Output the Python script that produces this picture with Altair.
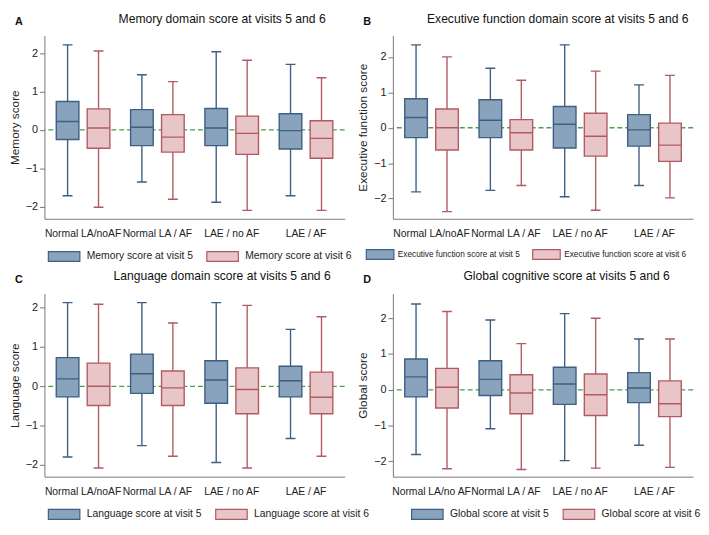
import altair as alt
import pandas as pd

groups_abc = ["Normal LA/noAF", "Normal LA / AF", "LAE / no AF", "LAE / AF"]
groups_d = ["Normal LA/no AF", "Normal LA / AF", "LAE / no AF", "LAE / AF"]

# each row: lower whisker, Q1, median, Q3, upper whisker (one row per group)
mem_v5 = [[-1.72, -0.25, 0.22, 0.74, 2.22], [-1.36, -0.41, 0.07, 0.53, 1.44],
          [-1.89, -0.41, 0.05, 0.56, 2.04], [-1.72, -0.50, -0.02, 0.42, 1.71]]
mem_v6 = [[-2.02, -0.48, 0.05, 0.55, 2.06], [-1.81, -0.58, -0.19, 0.40, 1.26],
          [-2.10, -0.64, -0.09, 0.36, 1.82], [-2.10, -0.74, -0.22, 0.24, 1.36]]

exe_v5 = [[-1.81, -0.28, 0.29, 0.82, 2.34], [-1.77, -0.28, 0.21, 0.79, 1.68],
          [-1.95, -0.57, 0.10, 0.60, 2.34], [-1.63, -0.52, -0.06, 0.37, 1.21]]
exe_v6 = [[-2.37, -0.63, 0.00, 0.53, 2.00], [-1.63, -0.63, -0.14, 0.23, 1.34],
          [-2.33, -0.80, -0.24, 0.41, 1.60], [-1.98, -0.95, -0.49, 0.13, 1.48]]

lang_v5 = [[-1.80, -0.27, 0.19, 0.73, 2.13], [-1.51, -0.18, 0.32, 0.82, 2.13],
           [-1.94, -0.43, 0.16, 0.65, 2.13], [-1.33, -0.27, 0.14, 0.51, 1.45]]
lang_v6 = [[-2.08, -0.49, 0.00, 0.59, 2.09], [-1.78, -0.49, -0.04, 0.39, 1.61],
           [-2.08, -0.70, -0.08, 0.47, 2.06], [-1.78, -0.70, -0.28, 0.36, 1.77]]

glob_v5 = [[-1.81, -0.20, 0.36, 0.86, 2.40], [-1.09, -0.16, 0.29, 0.81, 1.95],
           [-1.98, -0.41, 0.16, 0.63, 2.13], [-1.55, -0.36, 0.05, 0.48, 1.42]]
glob_v6 = [[-2.21, -0.51, 0.07, 0.60, 2.19], [-2.23, -0.67, -0.09, 0.42, 1.29],
           [-2.19, -0.72, -0.14, 0.44, 2.00], [-2.17, -0.75, -0.39, 0.25, 1.42]]

y_ticks = [-2, -1, 0, 1, 2]

FONT = "Liberation Sans"
FILL_COLORS = ["#8aa3bd", "#e8c6c8"]
STROKE_COLORS = ["#3d5f82", "#b25a63"]
ZERO_COLOR = "#4a9e48"
W, H = 305, 186


def panel(letter, title, ytitle, groups, v5, v6, label5, label6, ydom, lx, title_dx,
          lsize=10.5, symw=32, loff=6, cpad=11):
    rows = []
    for lab, vals in ((label5, v5), (label6, v6)):
        for g, (lo, q1, med, q3, hi) in zip(groups, vals):
            rows.append(dict(group=g, series=lab, lo=lo, q1=q1, med=med, q3=q3, hi=hi))
    df = pd.DataFrame(rows)
    order = [label5, label6]

    yscale = alt.Scale(domain=ydom, nice=False, zero=False)
    yaxis = alt.Axis(values=y_ticks, title=ytitle, grid=False)

    def Y(field):
        return alt.Y(f"{field}:Q", scale=yscale, axis=yaxis, title=ytitle)

    xenc = alt.X("group:N", sort=groups, title=None,
                 scale=alt.Scale(paddingInner=0, paddingOuter=0.02),
                 axis=alt.Axis(labelAngle=0, ticks=False, labelPadding=10,
                               labelLimit=300, labelOverlap=False, labelFontSize=10.5))
    xoff = alt.XOffset("series:N", sort=order,
                       scale=alt.Scale(paddingInner=0, paddingOuter=0.2))
    r = symw / 2.0
    hh = 5.0 / r
    legend = alt.Legend(orient="none", legendX=lx, legendY=H + 21, direction="horizontal",
                        title=None, symbolType=f"M-1,-{hh:.3f}H1V{hh:.3f}H-1Z",
                        symbolSize=symw * symw, symbolStrokeWidth=1.2,
                        labelFontSize=lsize, labelFont=FONT, labelColor="#222",
                        columnPadding=cpad, padding=0, labelOffset=loff, labelLimit=300)
    stroke = alt.Stroke("series:N", sort=order,
                        scale=alt.Scale(domain=order, range=STROKE_COLORS), legend=legend)
    fill = alt.Fill("series:N", sort=order,
                    scale=alt.Scale(domain=order, range=FILL_COLORS), legend=legend)

    zero = alt.Chart(pd.DataFrame({"z": [0]})).mark_rule(
        color=ZERO_COLOR, strokeDash=[5, 3], strokeWidth=1.3).encode(y=Y("z"))

    base = alt.Chart(df).encode(x=xenc, xOffset=xoff)
    whisk = base.mark_rule(strokeWidth=1.4).encode(y=Y("lo"), y2="hi:Q", stroke=stroke)
    cap_lo = base.mark_bar(size=10, fill="transparent", strokeWidth=1.4).encode(
        y=Y("lo"), y2="lo:Q", stroke=stroke)
    cap_hi = base.mark_bar(size=10, fill="transparent", strokeWidth=1.4).encode(
        y=Y("hi"), y2="hi:Q", stroke=stroke)
    box = base.mark_bar(size=23, strokeWidth=1.4).encode(
        y=Y("q1"), y2="q3:Q", fill=fill, stroke=stroke)
    med = base.mark_bar(size=23, fill="transparent", strokeWidth=1.4).encode(
        y=Y("med"), y2="med:Q", stroke=stroke)

    let = alt.Chart(pd.DataFrame({"t": [letter]})).mark_text(
        font=FONT, fontSize=11, fontWeight="bold", align="left", baseline="middle",
        color="#111").encode(x=alt.value(-30), y=alt.value(-14), text="t:N")

    return alt.layer(zero, whisk, cap_lo, cap_hi, box, med, let).properties(
        width=W, height=H,
        title=alt.TitleParams(title, fontSize=12.3, fontWeight="normal", font=FONT,
                              anchor="middle", dx=title_dx, dy=-5, offset=-14,
                              color="#111"))


pA = panel("A", "Memory domain score at visits 5 and 6", "Memory score", groups_abc,
           mem_v5, mem_v6, "Memory score at visit 5", "Memory score at visit 6",
           [-2.32, 2.46], 3, 28)
pB = panel("B", "Executive function domain score at visits 5 and 6", "Executive function score",
           groups_abc, exe_v5, exe_v6, "Executive function score at visit 5",
           "Executive function score at visit 6", [-2.57, 2.60], -28, 15,
           lsize=8.4, symw=28, loff=3, cpad=10)
pC = panel("C", "Language domain score at visits 5 and 6", "Language score", groups_abc,
           lang_v5, lang_v6, "Language score at visit 5", "Language score at visit 6",
           [-2.30, 2.36], 3, 28)
pD = panel("D", "Global cognitive score at visits 5 and 6", "Global score", groups_d,
           glob_v5, glob_v6, "Global score at visit 5", "Global score at visit 6",
           [-2.43, 2.69], 18, 24)

chart = alt.concat(pA, pB, pC, pD, columns=2, bounds="flush",
                   spacing=alt.RowColnumber(row=76, column=49)).resolve_scale(
    fill="independent", stroke="independent", y="independent", x="independent",
    xOffset="independent"
).resolve_legend(fill="independent", stroke="independent").configure_view(
    stroke=None
).configure_axis(
    labelFont=FONT, titleFont=FONT, labelFontSize=11, titleFontSize=12,
    titleFontWeight="normal", domainColor="#777", tickColor="#777",
    labelColor="#222", titleColor="#222", tickSize=5, grid=False
).properties(background="white", padding=0)

chart.save("out.html", embed_options={"renderer": "svg", "actions": False})
